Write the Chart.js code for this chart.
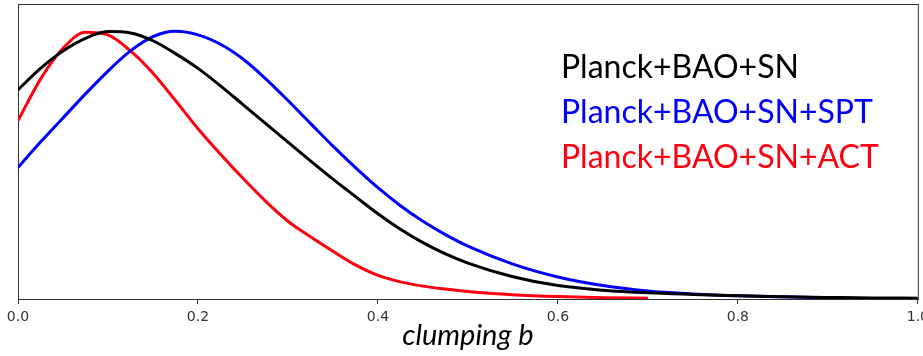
<!DOCTYPE html>
<html>
<head>
<meta charset="utf-8">
<script src="https://cdn.jsdelivr.net/npm/chart.js@4.4.1/dist/chart.umd.min.js"></script>
<style>
  html, body { margin: 0; padding: 0; background: #fff; overflow: hidden; }
  #wrap { width: 934px; height: 356px; }
</style>
</head>
<body>
<div id="wrap"><canvas id="c"></canvas></div>
<script>
// clumping parameter b, normalised posteriors
const bValues = [0, 0.025, 0.05, 0.075, 0.1, 0.125, 0.15, 0.175, 0.2, 0.225, 0.25, 0.275, 0.3,
  0.325, 0.35, 0.375, 0.4, 0.425, 0.45, 0.475, 0.5, 0.55, 0.6, 0.65, 0.7, 0.75, 0.8, 0.85, 0.9, 0.95, 1.0];

const planckBaoSn = [0.78, 0.86, 0.925, 0.972, 0.997, 0.992, 0.963, 0.915, 0.86, 0.795, 0.725, 0.655, 0.585,
  0.515, 0.447, 0.382, 0.318, 0.26, 0.21, 0.168, 0.134, 0.083, 0.05, 0.033, 0.023, 0.017, 0.012, 0.008, 0.006, 0.004, 0.003];

const planckBaoSnSpt = [0.49, 0.585, 0.675, 0.765, 0.85, 0.925, 0.978, 0.998, 0.985, 0.95, 0.895, 0.822, 0.74,
  0.655, 0.57, 0.49, 0.415, 0.348, 0.29, 0.24, 0.197, 0.13, 0.082, 0.05, 0.03, 0.019, 0.012, 0.008, 0.005, null, null];

const planckBaoSnAct = [0.665, 0.82, 0.935, 0.995, 0.985, 0.925, 0.842, 0.74, 0.635, 0.54, 0.45, 0.365, 0.29,
  0.232, 0.178, 0.127, 0.088, 0.064, 0.048, 0.037, 0.028, 0.016, 0.009, 0.005, 0.003, null, null, null, null, null, null];

const seriesNames = ['Planck+BAO+SN', 'Planck+BAO+SN+SPT', 'Planck+BAO+SN+ACT'];
const seriesColors = ['#000000', '#0000ff', '#ff0010'];
const xTicks = [0, 0.2, 0.4, 0.6, 0.8, 1.0];

const toPoints = (ys) => bValues.map((x, i) => ({ x: x, y: ys[i] }));

// axes frame like a matplotlib box
const frame = {
  id: 'frame',
  beforeDatasetsDraw(chart) {
    const a = chart.chartArea, ctx = chart.ctx;
    ctx.save();
    ctx.strokeStyle = '#333';
    ctx.lineWidth = 1;
    ctx.strokeRect(a.left + 0.5, a.top + 0.5, a.right - a.left, a.bottom - a.top);
    ctx.restore();
  }
};

// coloured text legend in the upper right
const textLegend = {
  id: 'textLegend',
  afterDraw(chart) {
    const ctx = chart.ctx;
    ctx.save();
    ctx.font = '32px Lato';
    ctx.textBaseline = 'alphabetic';
    seriesNames.forEach((name, i) => {
      ctx.fillStyle = seriesColors[i];
      ctx.fillText(name, 561, 78 + i * 45);
    });
    ctx.restore();
  }
};

new Chart(document.getElementById('c'), {
  type: 'line',
  data: {
    datasets: [
      { label: seriesNames[0], data: toPoints(planckBaoSn), borderColor: seriesColors[0] },
      { label: seriesNames[1], data: toPoints(planckBaoSnSpt), borderColor: seriesColors[1] },
      { label: seriesNames[2], data: toPoints(planckBaoSnAct), borderColor: seriesColors[2] }
    ].map(d => Object.assign(d, {
      borderWidth: 3,
      pointRadius: 0,
      fill: false,
      cubicInterpolationMode: 'monotone',
      spanGaps: false
    }))
  },
  options: {
    responsive: true,
    maintainAspectRatio: false,
    animation: false,
    layout: { padding: { top: 4, left: 0, right: 0, bottom: 0 } },
    plugins: { legend: { display: false }, tooltip: { enabled: false } },
    scales: {
      x: {
        type: 'linear',
        min: 0,
        max: 1,
        afterBuildTicks(scale) { scale.ticks = xTicks.map(v => ({ value: v })); },
        ticks: {
          callback: v => v.toFixed(1),
          color: '#333',
          font: { family: 'DejaVu Sans', size: 14 },
          padding: 5,
          maxRotation: 0
        },
        grid: { drawOnChartArea: false, drawTicks: true, tickLength: 5, color: '#333' },
        border: { display: false },
        title: {
          display: true,
          text: 'clumping b',
          color: '#000',
          font: { family: 'Lato', size: 29, style: 'italic' },
          padding: { top: 0, bottom: 3 }
        },
        afterFit(scale) { scale.height = 57; }
      },
      y: {
        min: 0,
        max: 1.1,
        ticks: { display: false },
        grid: { display: false },
        border: { display: false },
        afterFit(scale) { scale.width = 18; }
      }
    }
  },
  plugins: [frame, textLegend]
});
</script>
</body>
</html>
